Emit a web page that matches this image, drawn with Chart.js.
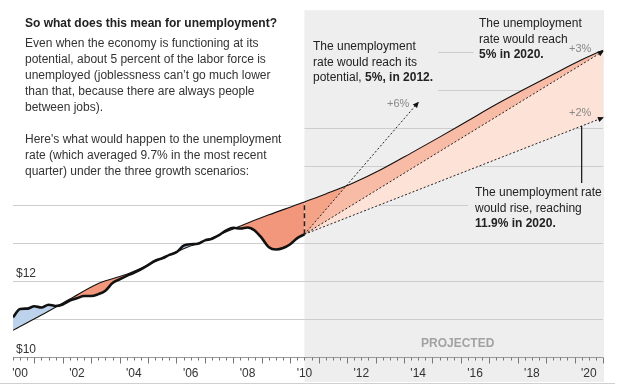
<!DOCTYPE html>
<html>
<head>
<meta charset="utf-8">
<script src="https://cdn.jsdelivr.net/npm/chart.js@4.4.1/dist/chart.umd.min.js"></script>
<style>
  html, body { margin: 0; padding: 0; background: #fff; }
  #wrap { position: relative; width: 621px; height: 387px; font-family: Arial, "Liberation Sans", sans-serif; color: #222; }
  #chart { position: absolute; left: 0; top: 0; }
  .txt { position: absolute; font-size: 12px; line-height: 16px; white-space: nowrap; }
  .note { line-height: 15.5px; }
  .pct { position: absolute; font-size: 11px; line-height: 13px; color: #888; white-space: nowrap; }
</style>
</head>
<body>
<div id="wrap">
  <canvas id="chart" width="621" height="387"></canvas>
  <div class="txt" style="left:25px; top:15px; font-weight:bold;">So what does this mean for unemployment?</div>
  <div class="txt" style="left:25px; top:35px; color:#333;">Even when the economy is functioning at its<br>potential, about 5 percent of the labor force is<br>unemployed (joblessness can’t go much lower<br>than that, because there are always people<br>between jobs).<br><br>Here's what would happen to the unemployment<br>rate (which averaged 9.7% in the most recent<br>quarter) under the three growth scenarios:</div>
  <div class="txt note" style="left:313px; top:39px;">The unemployment<br>rate would reach its<br>potential, <b>5%, in 2012.</b></div>
  <div class="txt note" style="left:479px; top:16px;">The unemployment<br>rate would reach<br><b>5% in 2020.</b></div>
  <div class="txt note" style="left:475px; top:185px;">The unemployment rate<br>would rise, reaching<br><b>11.9% in 2020.</b></div>
  <div class="pct" style="left:387px; top:97px;">+6%</div>
  <div class="pct" style="left:569px; top:42px;">+3%</div>
  <div class="pct" style="left:569px; top:106px;">+2%</div>
  <div class="txt" style="left:421px; top:335px; font-weight:bold; color:#a2a2a2;">PROJECTED</div>
</div>
<script>
// Trimestres (2000T1 = 2000.0) et PIB réel, en milliers de milliards
const quarters = [2000, 2000.25, 2000.5, 2000.75, 2001, 2001.25, 2001.5, 2001.75,
    2002, 2002.25, 2002.5, 2002.75, 2003, 2003.25, 2003.5, 2003.75,
    2004, 2004.25, 2004.5, 2004.75, 2005, 2005.25, 2005.5, 2005.75,
    2006, 2006.25, 2006.5, 2006.75, 2007, 2007.25, 2007.5, 2007.75,
    2008, 2008.25, 2008.5, 2008.75, 2009, 2009.25, 2009.5, 2009.75,
    2010, 2010.25];
const actualGdp = [11.04, 11.26, 11.27, 11.33, 11.30, 11.37, 11.34, 11.38,
    11.48, 11.54, 11.60, 11.60, 11.65, 11.74, 11.94, 12.04,
    12.13, 12.21, 12.30, 12.41, 12.53, 12.59, 12.68, 12.75,
    12.92, 12.96, 12.97, 13.06, 13.10, 13.20, 13.32, 13.39,
    13.37, 13.40, 13.32, 13.12, 12.88, 12.82, 12.86, 12.96,
    13.12, 13.22];

// PIB potentiel
const potYears = [2000, 2001, 2002, 2003, 2004, 2005, 2006, 2007, 2008, 2009, 2010, 2010.25,
    2011, 2012, 2013, 2014, 2015, 2016, 2017, 2018, 2019, 2020, 2020.75];
const potGdp = [10.70, 11.10, 11.52, 11.93, 12.17, 12.50, 12.84, 13.13, 13.44, 13.73, 14.00, 14.07,
    14.28, 14.58, 14.94, 15.35, 15.77, 16.20, 16.63, 17.03, 17.42, 17.80, 18.05];

// Scénarios de croissance
const scenYears = [2010.25, 2020.75];
const growth3 = [13.22, 18.02];
const growth2 = [13.22, 16.28];
const scen6Years = [2010.25, 2014.25];
const growth6 = [13.22, 16.68];

// Axes
const xTickYears = [2000.25, 2002.25, 2004.25, 2006.25, 2008.25, 2010.25, 2012.25, 2014.25, 2016.25, 2018.25, 2020.25];
const xLabels = ["'00", "'02", "'04", "'06", "'08", "'10", "'12", "'14", "'16", "'18", "'20"];
const yLabels = [10, 12];
const yGrid = [11, 12, 13, 14, 15, 16, 17, 18];

function pts(xs, ys) {
    return xs.map((x, i) => ({ x: x, y: ys[i] }));
}

const lastQ = quarters[quarters.length - 1];
const lastGdp = actualGdp[actualGdp.length - 1];
const potAtLast = potGdp[potYears.indexOf(lastQ)];

// Etendue horizontale de chaque ligne de grille (en années)
function gridSpan(v) {
    if (v === 14) return [2000, 2016.0];
    if (v === 15 || v === 16) return [lastQ, 2020.75];
    if (v === 17) return [2014.95, 2020.75];
    if (v === 18) return [2014.95, 2016.2];
    return [2000, 2020.75];
}

const decor = {
    id: 'decor',
    beforeDraw(chart) {
        const { ctx, chartArea: a, scales: { x, y } } = chart;
        const x0 = x.getPixelForValue(lastQ);
        ctx.save();
        // zone projetée
        ctx.fillStyle = '#eeeeee';
        ctx.fillRect(x0, a.top, a.right + 1 - x0, 382 - a.top);
        // grille
        ctx.strokeStyle = '#cdcdcd';
        ctx.lineWidth = 1;
        yGrid.forEach(v => {
            const py = Math.round(y.getPixelForValue(v)) + 0.5;
            const s = gridSpan(v);
            ctx.beginPath();
            ctx.moveTo(x.getPixelForValue(s[0]), py);
            ctx.lineTo(x.getPixelForValue(s[1]), py);
            ctx.stroke();
        });
        // séparateur en bas
        ctx.strokeStyle = '#d0d0d0';
        ctx.beginPath();
        ctx.moveTo(0, 383.5);
        ctx.lineTo(615, 383.5);
        ctx.stroke();
        ctx.restore();
    },
    afterDatasetsDraw(chart) {
        const { ctx, chartArea: a, scales: { x, y } } = chart;
        ctx.save();
        // axe x et graduations trimestrielles
        const py = Math.round(y.getPixelForValue(10)) + 0.5;
        ctx.strokeStyle = '#9a9a9a';
        ctx.lineWidth = 1;
        ctx.beginPath();
        ctx.moveTo(a.left, py);
        ctx.lineTo(a.right, py);
        ctx.stroke();
        ctx.strokeStyle = '#777';
        for (let q = 0; q <= 83; q++) {
            const t = 2000 + q / 4;
            const px = Math.round(x.getPixelForValue(t)) + 0.5;
            const len = (q % 4 === 3) ? 6 : 3;
            ctx.beginPath();
            ctx.moveTo(px, py);
            ctx.lineTo(px, py + len);
            ctx.stroke();
        }
        // pointes de flèche des scénarios
        ctx.fillStyle = '#111';
        [2, 3, 4].forEach(i => {
            const d = chart.getDatasetMeta(i).data;
            const p = d[d.length - 1], q = d[d.length - 2];
            const ang = Math.atan2(p.y - q.y, p.x - q.x);
            ctx.save();
            ctx.translate(p.x, p.y);
            ctx.rotate(ang);
            ctx.beginPath();
            ctx.moveTo(1, 0);
            ctx.lineTo(-5, -2.8);
            ctx.lineTo(-5, 2.8);
            ctx.closePath();
            ctx.fill();
            ctx.restore();
        });
        // trait de rappel vers la courbe +2%
        const d2 = chart.getDatasetMeta(4).data;
        const cx = x.getPixelForValue(2020);
        const k = (cx - d2[0].x) / (d2[1].x - d2[0].x);
        const cy = d2[0].y + k * (d2[1].y - d2[0].y);
        ctx.strokeStyle = '#111';
        ctx.lineWidth = 1.2;
        ctx.beginPath();
        ctx.moveTo(cx, cy);
        ctx.lineTo(cx, 183);
        ctx.stroke();
        ctx.restore();
    }
};

const font = { family: 'Arial, "Liberation Sans", sans-serif', size: 12 };
const ctx = document.getElementById('chart').getContext('2d');
window.gdpChart = new Chart(ctx, {
    type: 'line',
    data: {
        datasets: [{
            label: 'PIB réel',
            data: pts(quarters, actualGdp),
            borderColor: '#111',
            borderWidth: 2.6,
            pointRadius: 0,
            cubicInterpolationMode: 'monotone',
            fill: { target: 1, above: '#bdd3ec', below: '#f2977b' }
        }, {
            label: 'PIB potentiel',
            data: pts(potYears, potGdp),
            borderColor: '#111',
            borderWidth: 1.1,
            pointRadius: 0,
            cubicInterpolationMode: 'monotone',
            fill: false
        }, {
            label: '+6%',
            data: pts(scen6Years, growth6),
            borderColor: '#222',
            borderWidth: 1,
            borderDash: [2, 2],
            pointRadius: 0,
            fill: { target: 1, above: 'rgba(0,0,0,0)', below: '#f5a387' }
        }, {
            label: '+3%',
            data: pts(scenYears, growth3),
            borderColor: '#222',
            borderWidth: 1,
            borderDash: [2, 2],
            pointRadius: 0,
            fill: { target: 1, above: '#f8bca6', below: '#f8bca6' }
        }, {
            label: '+2%',
            data: pts(scenYears, growth2),
            borderColor: '#222',
            borderWidth: 1,
            borderDash: [2, 2],
            pointRadius: 0,
            fill: { target: 1, above: '#fde3d7', below: '#fde3d7' }
        }, {
            label: 'écart',
            data: [{ x: lastQ, y: lastGdp }, { x: lastQ, y: potAtLast }],
            borderColor: '#222',
            borderWidth: 1.5,
            borderDash: [5, 3],
            pointRadius: 0,
            fill: false,
            order: -1
        }]
    },
    options: {
        responsive: false,
        animation: false,
        layout: { padding: { left: 13, right: 18, top: 7, bottom: 0 } },
        plugins: {
            legend: { display: false },
            tooltip: { enabled: false },
            filler: { drawTime: 'beforeDatasetsDraw' }
        },
        scales: {
            x: {
                type: 'linear',
                min: 2000,
                max: 2020.75,
                afterBuildTicks: (s) => { s.ticks = xTickYears.map(v => ({ value: v })); },
                afterFit: (s) => { s.height = 30; },
                grid: { display: false, drawTicks: false },
                border: { display: false },
                ticks: {
                    callback: (v, i) => xLabels[i],
                    color: '#333',
                    font: font,
                    padding: 9,
                    maxRotation: 0,
                    autoSkip: false
                }
            },
            y: {
                type: 'linear',
                min: 10,
                max: 19.1,
                afterFit: (s) => { s.width = 0; },
                grid: { display: false, drawTicks: false },
                border: { display: false },
                ticks: {
                    stepSize: 1,
                    mirror: true,
                    padding: 3,
                    labelOffset: -7,
                    color: '#333',
                    font: font,
                    callback: (v) => yLabels.includes(v) ? '$' + v : ''
                }
            }
        }
    },
    plugins: [decor]
});
</script>
</body>
</html>
